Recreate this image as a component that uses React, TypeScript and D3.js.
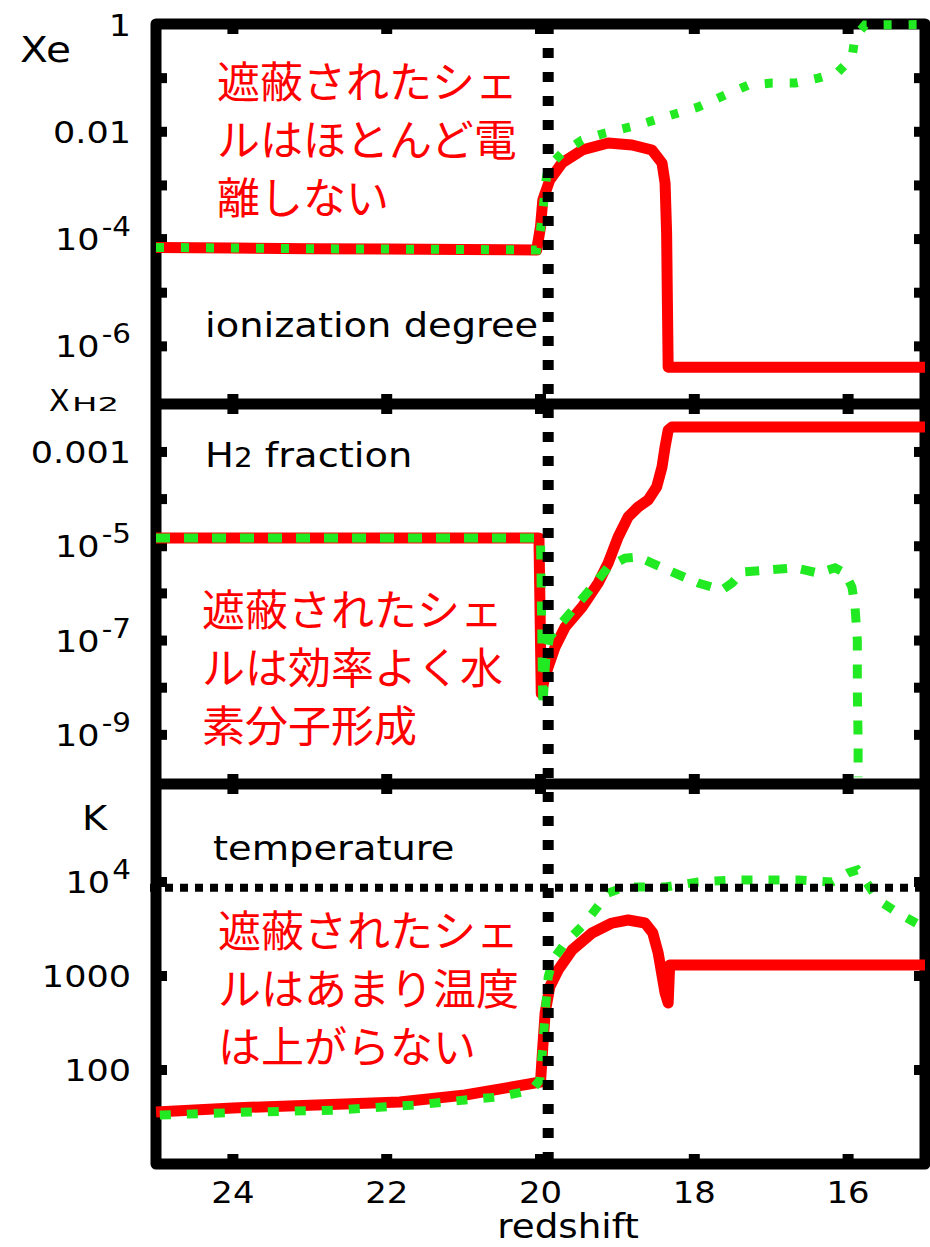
import React from "react";
import * as d3 from "d3";

// ---------- data ----------
const xTicks = [24, 22, 20, 18, 16];

// Panel 1: ionization degree Xe
const xeRedZ = [25, 24, 23, 22, 21, 20.05, 20.0, 19.97, 19.88, 19.72, 19.46, 19.12, 18.81, 18.55, 18.42, 18.38, 18.36, 18.35, 18.34, 15];
const xeRedV = [7.0e-5, 6.8e-5, 6.6e-5, 6.5e-5, 6.4e-5, 6.25e-5, 1.68e-4, 5.35e-4, 1.26e-3, 2.62e-3, 4.57e-3, 6.18e-3, 5.67e-3, 4.57e-3, 2.62e-3, 1.11e-3, 1.3e-4, 7.3e-6, 4.1e-7, 4.1e-7];
const xeGreenZ = [25, 24, 23, 22, 21, 20.05, 20.0, 19.96, 19.93, 19.9, 19.72, 19.46, 19.16, 18.73, 18.38, 17.95, 17.6, 17.3, 16.99, 16.69, 16.39, 16.13, 15.95, 15.91, 15.78, 15.0];
const xeGreenV = [7.0e-5, 6.8e-5, 6.6e-5, 6.5e-5, 6.4e-5, 6.25e-5, 1.5e-4, 4.5e-4, 1.2e-3, 2.2e-3, 4.0e-3, 7.0e-3, 9.5e-3, 1.34e-2, 1.89e-2, 2.9e-2, 4.85e-2, 7.4e-2, 8.1e-2, 8.1e-2, 0.1, 0.13, 0.237, 0.585, 0.98, 1.0];
const xeTickVals = [1, 1e-2, 1e-4, 1e-6];
const xeTickLabels = ["1", "0.01", "10^-4", "10^-6"];

// Panel 2: H2 fraction
const h2RedZ = [25, 22, 20.02, 19.99, 19.95, 19.9, 19.81, 19.68, 19.46, 19.25, 19.12, 18.99, 18.86, 18.73, 18.6, 18.49, 18.42, 18.38, 18.34, 18.29, 15];
const h2RedV = [1.5e-5, 1.5e-5, 1.5e-5, 7.5e-9, 1.5e-8, 2.75e-8, 7.3e-8, 1.94e-7, 5.1e-7, 1.66e-6, 4.4e-6, 1.57e-5, 4.2e-5, 6.8e-5, 9.6e-5, 1.8e-4, 4.8e-4, 1.28e-3, 2.9e-3, 3.4e-3, 3.4e-3];
const h2GreenZ = [25, 22, 20.0, 19.97, 19.93, 19.88, 19.77, 19.55, 19.33, 19.12, 18.9, 18.73, 18.55, 18.29, 17.95, 17.64, 17.51, 17.38, 17.08, 16.69, 16.39, 16.17, 16.04, 15.95, 15.91, 15.88, 15.88, 15.87, 15.87];
const h2GreenV = [1.5e-5, 1.5e-5, 1.5e-5, 3.9e-9, 4.5e-8, 1.2e-7, 1.94e-7, 5.1e-7, 1.36e-6, 3.6e-6, 5.6e-6, 5.9e-6, 4.4e-6, 2.85e-6, 1.66e-6, 1.18e-6, 1.66e-6, 2.85e-6, 3.1e-6, 3.5e-6, 2.7e-6, 3.5e-6, 2.7e-6, 1.36e-6, 5.1e-7, 1.02e-7, 8.9e-9, 7.8e-10, 1.26e-10];
const h2TickVals = [1e-3, 1e-5, 1e-7, 1e-9];
const h2TickLabels = ["0.001", "10^-5", "10^-7", "10^-9"];

// Panel 3: temperature K
const tRedZ = [25, 24, 22.91, 21.83, 20.98, 20.0, 19.97, 19.94, 19.88, 19.77, 19.59, 19.33, 19.07, 18.86, 18.64, 18.54, 18.47, 18.38, 18.34, 18.32, 15];
const tRedV = [35.7, 39.5, 42.5, 45.7, 54.2, 74.5, 176, 404, 763, 1160, 1890, 2870, 3660, 3940, 3660, 2870, 1760, 660, 516, 1310, 1310];
const tGreenZ = [24.95, 23.78, 22.65, 21.61, 20.98, 20.55, 20.11, 20.01, 19.97, 19.94, 19.9, 19.84, 19.68, 19.42, 19.12, 18.9, 18.38, 17.95, 17.51, 17.08, 16.65, 16.21, 16.0, 15.88, 15.78, 15.61, 15.35, 15.0];
const tGreenV = [33.2, 35.7, 37.5, 42.5, 48, 51.6, 61.3, 78.3, 176, 404, 975, 1480, 2240, 3660, 7640, 8850, 8850, 10000, 10500, 10500, 10500, 10000, 12500, 13400, 10500, 6440, 4680, 3240];
const tTickVals = [1e4, 1e3, 1e2];
const tTickLabels = ["10^4", "1000", "100"];
const tThreshold = 8700;

const zMark = 19.9;

const note1 = ["遮蔽されたシェ", "ルはほとんど電", "離しない"];
const note2 = ["遮蔽されたシェ", "ルは効率よく水", "素分子形成"];
const note3 = ["遮蔽されたシェ", "ルはあまり温度", "は上がらない"];

// ---------- layout ----------
const W = 930;
const H = 1247;
const LEFT = 156;
const RIGHT = 925;
const RED = "#ff0000";
const GREEN = "#22ea22";
const SX = 1.13;
const LATIN = "'DejaVu Sans', sans-serif";
const CJK = "'Noto Sans CJK JP', sans-serif";

const x = d3.scaleLinear().domain([25, 15]).range([LEFT, RIGHT]);

const zip = (zs: number[], vs: number[]) => zs.map((z, i) => [z, vs[i]] as [number, number]);

type Panel = {
  top: number;
  bottom: number;
  y: d3.ScaleLogarithmic<number, number>;
  red: [number, number][];
  green: [number, number][];
  greenDash: string;
  tickVals: number[];
  tickLabels: string[];
};

const panels: Panel[] = [
  {
    top: 24, bottom: 404,
    y: d3.scaleLog().domain([1e-7, 1]).range([400, 24.5]),
    red: zip(xeRedZ, xeRedV), green: zip(xeGreenZ, xeGreenV), greenDash: "8 17",
    tickVals: xeTickVals, tickLabels: xeTickLabels,
  },
  {
    top: 404, bottom: 784,
    y: d3.scaleLog().domain([1e-10, 1e-2]).range([782, 404.8]),
    red: zip(h2RedZ, h2RedV), green: zip(h2GreenZ, h2GreenV), greenDash: "14 14",
    tickVals: h2TickVals, tickLabels: h2TickLabels,
  },
  {
    top: 784, bottom: 1164,
    y: d3.scaleLog().domain([10, 1e5]).range([1164, 788]),
    red: zip(tRedZ, tRedV), green: zip(tGreenZ, tGreenV), greenDash: "11 16",
    tickVals: tTickVals, tickLabels: tTickLabels,
  },
];

function SText(props: { x: number; y: number; size: number; anchor?: string; sx?: number; children: React.ReactNode }) {
  const { x: tx, y: ty, size, anchor = "start", sx = SX, children } = props;
  return (
    <text transform={`translate(${tx},${ty}) scale(${sx},1)`} textAnchor={anchor} fontSize={size} fontFamily={LATIN} fill="#000">
      {children}
    </text>
  );
}

function TickLabel({ label, yPos }: { label: string; yPos: number }) {
  const parts = label.split("^");
  return (
    <SText x={131} y={yPos + 11} size={31} anchor="end">
      <tspan>{parts[0]}</tspan>
      {parts[1] !== undefined && (
        <tspan dy={-14} fontSize={26} dx={2}>{parts[1]}</tspan>
      )}
    </SText>
  );
}

function Note({ lines, x0, y0 }: { lines: string[]; x0: number; y0: number }) {
  return (
    <g>
      {lines.map((l, i) => (
        <text key={i} x={x0} y={y0 + i * 58} fontSize={43} fontFamily={CJK} fill={RED}>{l}</text>
      ))}
    </g>
  );
}

export default function App() {
  return (
    <svg width={W} height={H} viewBox={`0 0 ${W} ${H}`} style={{ display: "block", position: "absolute", left: 0, top: 0, background: "#fff" }}>
      <rect x={0} y={0} width={W} height={H} fill="#fff" />
      {panels.map((p, pi) => {
        const [d0, d1] = p.y.domain();
        const decades = d3.range(Math.round(Math.log10(d0)), Math.round(Math.log10(d1)) + 1)
          .map((e) => Math.pow(10, e))
          .filter((v) => p.y(v) > p.top + 10 && p.y(v) < p.bottom - 10);
        return (
          <g key={pi}>
            {xTicks.map((t) => (
              <g key={t}>
                <line x1={x(t)} x2={x(t)} y1={p.top} y2={p.top + 10} stroke="#000" strokeWidth={11} />
                <line x1={x(t)} x2={x(t)} y1={p.bottom} y2={p.bottom - 10} stroke="#000" strokeWidth={11} />
              </g>
            ))}
            {decades.map((v) => (
              <g key={v}>
                <line x1={LEFT} x2={LEFT + 11} y1={p.y(v)} y2={p.y(v)} stroke="#000" strokeWidth={10} />
                <line x1={RIGHT} x2={RIGHT - 11} y1={p.y(v)} y2={p.y(v)} stroke="#000" strokeWidth={10} />
              </g>
            ))}
            {p.tickVals.map((v, i) => (
              <TickLabel key={i} label={p.tickLabels[i]} yPos={p.y(v)} />
            ))}
          </g>
        );
      })}

      {/* frame */}
      <rect x={LEFT} y={24} width={RIGHT - LEFT} height={1164 - 24} fill="none" stroke="#000" strokeWidth={11} strokeLinejoin="round" />
      <line x1={LEFT} x2={RIGHT} y1={404} y2={404} stroke="#000" strokeWidth={11} />
      <line x1={LEFT} x2={RIGHT} y1={784} y2={784} stroke="#000" strokeWidth={11} />

      {/* axis / panel labels */}
      <SText x={20} y={62} size={36}>Xe</SText>
      <text x={49} y={411} fontSize={30} fontFamily={LATIN} fill="#000">X</text>
      <text x={72} y={411} fontSize={19} fontFamily={LATIN} fill="#000" textLength={47} lengthAdjust="spacingAndGlyphs">H2</text>
      <SText x={82} y={830} size={34}>K</SText>

      <SText x={205} y={337} size={34}>ionization degree</SText>
      <SText x={205} y={467} size={34}>
        <tspan>H</tspan>
        <tspan fontSize={26}>2</tspan>
        <tspan> fraction</tspan>
      </SText>
      <SText x={213} y={860} size={34}>temperature</SText>

      {/* x tick labels */}
      {xTicks.map((t) => (
        <SText key={t} x={x(t)} y={1203} size={30} anchor="middle">{String(t)}</SText>
      ))}
      <SText x={568} y={1238} size={33} anchor="middle">redshift</SText>

      {/* Japanese notes */}
      <Note lines={note1} x0={217} y0={98} />
      <Note lines={note2} x0={202} y0={626} />
      <Note lines={note3} x0={218} y0={947} />

      {/* data lines */}
      {panels.map((p, pi) => {
        const line = d3.line<[number, number]>().x((d) => x(d[0])).y((d) => p.y(d[1]));
        return (
          <g key={"l" + pi}>
            <path d={line(p.red) || ""} fill="none" stroke={RED} strokeWidth={11} strokeLinejoin="round" />
            <path d={line(p.green) || ""} fill="none" stroke={GREEN} strokeWidth={9} strokeDasharray={p.greenDash} />
          </g>
        );
      })}

      {/* reference dotted lines */}
      <line x1={150} x2={RIGHT} y1={panels[2].y(tThreshold)} y2={panels[2].y(tThreshold)} stroke="#000" strokeWidth={8} strokeDasharray="8 7" />
      <line x1={x(zMark)} x2={x(zMark)} y1={24} y2={1164} stroke="#000" strokeWidth={11} strokeDasharray="10 14" />
    </svg>
  );
}
